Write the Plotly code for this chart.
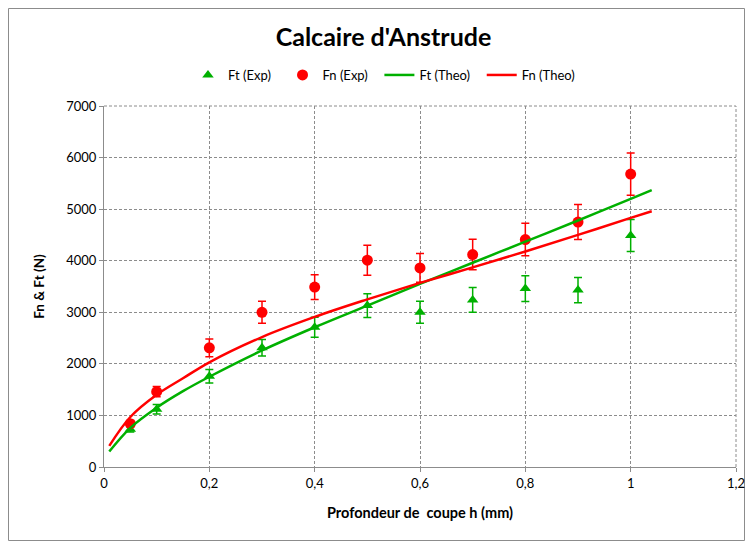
import plotly.graph_objects as go

# Experimental data
h_exp = [0.05, 0.1, 0.2, 0.3, 0.4, 0.5, 0.6, 0.7, 0.8, 0.9, 1.0]
ft_exp = [730, 1120, 1760, 2310, 2710, 3130, 3000, 3240, 3460, 3430, 4490]
ft_err = [50, 90, 130, 160, 195, 230, 215, 240, 250, 245, 310]
fn_exp = [840, 1460, 2310, 3000, 3490, 4010, 3860, 4120, 4410, 4750, 5680]
fn_err = [60, 100, 170, 215, 240, 290, 280, 295, 315, 340, 410]

# Theoretical curves
h_theo = [0.01, 0.05, 0.1, 0.15, 0.2, 0.3, 0.4, 0.5, 0.6, 0.7, 0.8, 0.9, 1.0, 1.04]
ft_theo = [300, 760, 1150, 1470, 1750, 2260, 2710, 3130, 3550, 3960, 4370, 4780, 5200, 5370]
fn_theo = [410, 970, 1400, 1720, 2030, 2520, 2910, 3250, 3570, 3870, 4180, 4500, 4830, 4960]

x_ticks = [0, 0.2, 0.4, 0.6, 0.8, 1.0, 1.2]
x_ticktext = ["0", "0,2", "0,4", "0,6", "0,8", "1", "1,2"]
y_ticks = [0, 1000, 2000, 3000, 4000, 5000, 6000, 7000]

GREEN = "#00B000"
RED = "#FF0000"
GRID = "#8C8C8C"
FONT = "Lato"
PAD = "\u00a0\u00a0"

W, H = 749, 545
L, R, T, B = 104, 13, 106, 78
PW, PH = W - L - R, H - T - B

fig = go.Figure()
fig.add_trace(go.Scatter(
    x=h_exp, y=ft_exp, mode="markers", name="Ft (Exp)" + PAD,
    marker=dict(symbol="triangle-up", size=10, color=GREEN),
    error_y=dict(type="data", array=ft_err, color=GREEN, thickness=1.5, width=4),
))
fig.add_trace(go.Scatter(
    x=h_exp, y=fn_exp, mode="markers", name="Fn (Exp)" + PAD,
    marker=dict(symbol="circle", size=11, color=RED),
    error_y=dict(type="data", array=fn_err, color=RED, thickness=1.5, width=4),
))
fig.add_trace(go.Scatter(
    x=h_theo, y=ft_theo, mode="lines", name="Ft (Theo)" + PAD,
    line=dict(color=GREEN, width=2.5, shape="spline"),
))
fig.add_trace(go.Scatter(
    x=h_theo, y=fn_theo, mode="lines", name="Fn (Theo)",
    line=dict(color=RED, width=2.5, shape="spline"),
))

axis_common = dict(
    showgrid=True, gridcolor=GRID, griddash="3px,2px", gridwidth=1,
    showline=True, linecolor=GRID, linewidth=1,
    ticks="outside", ticklen=4, tickcolor=GRID,
    tickfont=dict(family=FONT, size=13, color="black"),
    zeroline=False, automargin=False,
)

fig.update_xaxes(
    range=[0, 1.2], tickvals=x_ticks, ticktext=x_ticktext,
    title=dict(text="<b>Profondeur de  coupe h (mm)</b>", font=dict(family=FONT, size=14.5, color="black"), standoff=18),
    **axis_common,
)
fig.update_yaxes(
    range=[0, 7000], tickvals=y_ticks,
    title=dict(text="<b>Fn & Ft (N)</b>", font=dict(family=FONT, size=13.5, color="black"), standoff=18),
    **axis_common,
)

# outer chart border (screen px 8..745, 8..541)
fig.add_shape(type="rect", xref="paper", yref="paper",
              x0=(8.5 - L) / PW, x1=(744.5 - L) / PW,
              y0=(H - B - 540.5) / PH, y1=(H - B - 8.5) / PH,
              line=dict(color=GRID, width=1), fillcolor="rgba(0,0,0,0)", layer="below")
fig.add_shape(type="line", xref="paper", yref="paper", x0=1, x1=1, y0=0, y1=1,
              line=dict(color=GRID, width=1, dash="3px,2px"))
fig.add_shape(type="line", xref="paper", yref="paper", x0=0, x1=1, y0=1, y1=1,
              line=dict(color=GRID, width=1, dash="3px,2px"))

fig.update_layout(
    width=W, height=H,
    margin=dict(l=L, r=R, t=T, b=B, autoexpand=False),
    paper_bgcolor="white", plot_bgcolor="white",
    title=dict(text="<b>Calcaire d'Anstrude</b>", x=0.512, xanchor="center", y=1 - 37 / H, yanchor="middle",
               font=dict(family=FONT, size=25, color="black")),
    legend=dict(orientation="h", x=0.443, xanchor="center", y=(H - B - 75) / PH, yanchor="middle",
                font=dict(family=FONT, size=13, color="black"), itemwidth=30,
                bgcolor="rgba(0,0,0,0)"),
    showlegend=True,
)

fig.write_html("out.html", config={"displayModeBar": False},
               post_script="document.body.style.margin='0';")
